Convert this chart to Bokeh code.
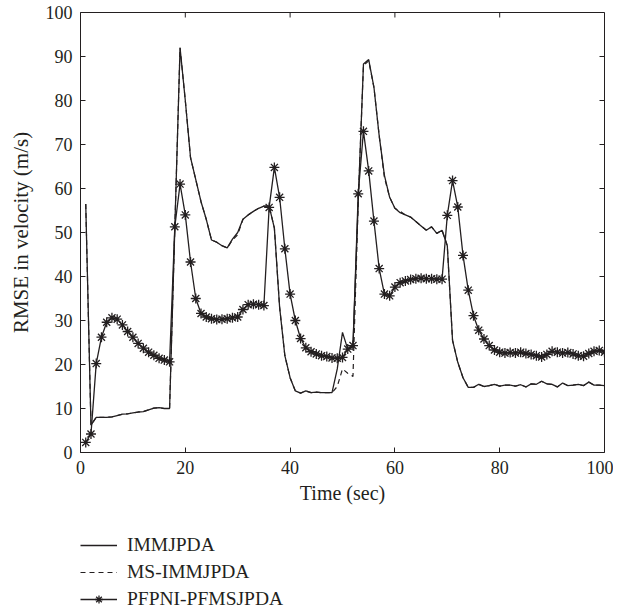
import math
from bokeh.plotting import figure
from bokeh.layouts import column
from bokeh.models import (LinearAxis, Range1d, SingleIntervalTicker, Legend, LegendItem,
                          ColumnDataSource)
from bokeh.embed import file_html
from bokeh.resources import INLINE

# ---------------- data ----------------
time_sec = list(range(1, 101))

immjpda = [
    56.5, 6.2, 8.0, 8.0, 8.0, 8.1, 8.4, 8.7, 8.8, 9.0,
    9.2, 9.3, 9.7, 10.1, 10.2, 10.0, 10.0, 51.0, 92.0, 80.0,
    67.0, 62.0, 57.0, 53.0, 48.3, 47.8, 47.0, 46.5, 48.5, 50.0,
    53.0, 54.0, 54.8, 55.5, 56.0, 56.0, 51.0, 33.0, 22.0, 17.0,
    14.0, 13.5, 14.0, 13.6, 13.7, 13.6, 13.6, 13.6, 19.0, 27.3,
    23.5, 24.0, 57.0, 88.3, 89.3, 83.0, 72.0, 63.0, 58.0, 55.5,
    54.5, 54.0, 53.5, 52.5, 51.5, 50.5, 51.3, 49.8, 50.5, 47.0,
    25.5, 20.5, 17.0, 14.8, 14.8, 15.5, 15.0, 15.2, 15.5, 15.1,
    15.3, 15.3, 15.1, 15.4, 14.9, 15.6, 15.5, 16.2, 15.6, 15.5,
    14.9, 15.8, 15.2, 15.3, 15.5, 15.2, 16.0, 15.3, 15.3, 15.2,
]

ms_immjpda = [
    56.5, 6.2, 8.0, 8.0, 8.0, 8.1, 8.4, 8.7, 8.8, 9.0,
    9.2, 9.3, 9.7, 10.1, 10.2, 10.0, 10.0, 51.0, 92.0, 80.0,
    67.0, 62.0, 57.0, 53.0, 48.3, 47.8, 47.0, 46.5, 48.3, 49.5,
    53.0, 54.0, 54.8, 55.5, 56.0, 56.0, 51.0, 33.0, 22.0, 17.0,
    14.0, 13.5, 14.0, 13.6, 13.7, 13.6, 13.6, 13.6, 15.0, 19.0,
    18.0, 17.3, 57.0, 88.0, 89.0, 83.0, 72.0, 62.5, 58.0, 55.5,
    54.8, 54.0, 53.5, 52.5, 51.5, 50.5, 51.3, 49.8, 50.5, 47.0,
    25.5, 20.5, 17.0, 14.8, 14.8, 15.5, 15.0, 15.2, 15.5, 15.1,
    15.3, 15.3, 15.1, 15.4, 14.9, 15.6, 15.5, 16.2, 15.6, 15.5,
    14.9, 15.8, 15.2, 15.3, 15.5, 15.2, 16.0, 15.3, 15.3, 15.2,
]

pfpni_pfmsjpda = [
    2.3, 4.2, 20.2, 26.2, 29.6, 30.6, 30.3, 29.0, 27.5, 26.2,
    24.8, 23.7, 22.8, 22.1, 21.4, 21.0, 20.6, 51.3, 61.0, 54.0,
    43.3, 35.0, 31.6, 30.8, 30.4, 30.2, 30.3, 30.4, 30.6, 30.8,
    32.5, 33.6, 33.7, 33.6, 33.4, 55.7, 64.8, 58.0, 46.3, 36.0,
    30.0, 25.9, 23.8, 22.9, 22.4, 22.0, 21.8, 21.5, 21.4, 21.6,
    23.5, 24.3, 58.8, 73.0, 64.0, 52.6, 41.8, 36.0, 35.6, 37.6,
    38.6, 39.0, 39.3, 39.5, 39.6, 39.5, 39.5, 39.4, 39.4, 53.9,
    61.8, 55.8, 44.8, 36.9, 31.1, 27.8, 25.8, 24.3, 23.3, 22.8,
    22.6, 22.7, 22.6, 22.8, 22.5, 22.3, 22.0, 21.7, 22.3, 23.0,
    22.8, 22.6, 22.7, 22.4, 22.0, 21.9, 22.5, 23.0, 23.2, 22.8,
]

x_ticks = [0, 20, 40, 60, 80, 100]
y_ticks = [0, 10, 20, 30, 40, 50, 60, 70, 80, 90, 100]

series_names = ["IMMJPDA", "MS-IMMJPDA", "PFPNI-PFMSJPDA"]
x_label = "Time (sec)"
y_label = "RMSE in velocity (m/s)"

# ---------------- main figure ----------------
FONT = "Liberation Serif"
INK = "#231f20"

p = figure(width=613, height=512, output_backend="svg", toolbar_location=None,
           x_range=Range1d(0, 100), y_range=Range1d(0, 100),
           min_border_left=80, min_border_right=9, min_border_top=12,
           min_border_bottom=60)
p.xaxis.visible = False
p.yaxis.visible = False
p.grid.visible = False
p.outline_line_color = INK
p.outline_line_width = 1
p.background_fill_color = "white"
p.border_fill_color = "white"


def style(ax):
    ax.major_tick_in = 5
    ax.major_tick_out = 0
    ax.minor_tick_line_color = None
    ax.major_tick_line_color = INK
    ax.axis_line_color = None
    ax.major_label_text_font = FONT
    ax.major_label_text_color = INK
    ax.major_label_text_font_size = "18px"
    ax.axis_label_text_font = FONT
    ax.axis_label_text_font_style = "normal"
    ax.axis_label_text_color = INK


xb = LinearAxis(ticker=SingleIntervalTicker(interval=20, num_minor_ticks=0),
                axis_label=x_label)
style(xb)
xb.axis_label_text_font_size = "20px"
xb.major_label_standoff = 8
xb.axis_label_standoff = 5
p.add_layout(xb, "below")

yl = LinearAxis(ticker=SingleIntervalTicker(interval=10, num_minor_ticks=0),
                axis_label=y_label)
style(yl)
yl.axis_label_text_font_size = "21px"
yl.major_label_standoff = 8
yl.axis_label_standoff = 10
p.add_layout(yl, "left")

# inward ticks on the top and right edges of the box
p.ray(x=x_ticks, y=[100] * len(x_ticks), length=5, length_units="screen",
      angle=-math.pi / 2, line_color=INK, line_width=1)
p.ray(x=[100] * len(y_ticks), y=y_ticks, length=5, length_units="screen",
      angle=math.pi, line_color=INK, line_width=1)

src = ColumnDataSource(dict(t=time_sec, a=immjpda, b=ms_immjpda, c=pfpni_pfmsjpda))


def draw(fig, star_size):
    r1 = fig.line("t", "a", source=src, line_color=INK, line_width=1.3)
    r2 = fig.line("t", "b", source=src, line_color=INK, line_width=1.2, line_dash="5 4")
    r3 = fig.line("t", "c", source=src, line_color=INK, line_width=1.3)
    r3m = fig.scatter("t", "c", source=src, marker="asterisk", size=star_size,
                      line_color=INK, line_width=1.3)
    return r1, r2, r3, r3m


draw(p, 10)

# ---------------- legend strip under the chart ----------------
lf = figure(width=613, height=99, output_backend="svg", toolbar_location=None,
            x_range=Range1d(1000, 1001), y_range=Range1d(1000, 1001),
            min_border_left=0, min_border_right=0, min_border_top=0,
            min_border_bottom=0)
lf.axis.visible = False
lf.grid.visible = False
lf.outline_line_color = None
lf.background_fill_color = "white"
lf.border_fill_color = "white"
l1, l2, l3, l3m = draw(lf, 5)

legend = Legend(items=[
    LegendItem(label=series_names[0], renderers=[l1]),
    LegendItem(label=series_names[1], renderers=[l2]),
    LegendItem(label=series_names[2], renderers=[l3, l3m]),
], location=(0, 1))
legend.border_line_color = None
legend.background_fill_alpha = 0
legend.padding = 0
legend.margin = 0
legend.spacing = 5
legend.glyph_width = 37
legend.glyph_height = 20
legend.label_height = 20
legend.label_standoff = 10
legend.label_text_font = FONT
legend.label_text_font_size = "19.5px"
legend.label_text_color = INK
legend.label_text_baseline = "middle"
lf.add_layout(legend, "center")

open("out.html", "w").write(file_html(column(p, lf, spacing=0), INLINE))
